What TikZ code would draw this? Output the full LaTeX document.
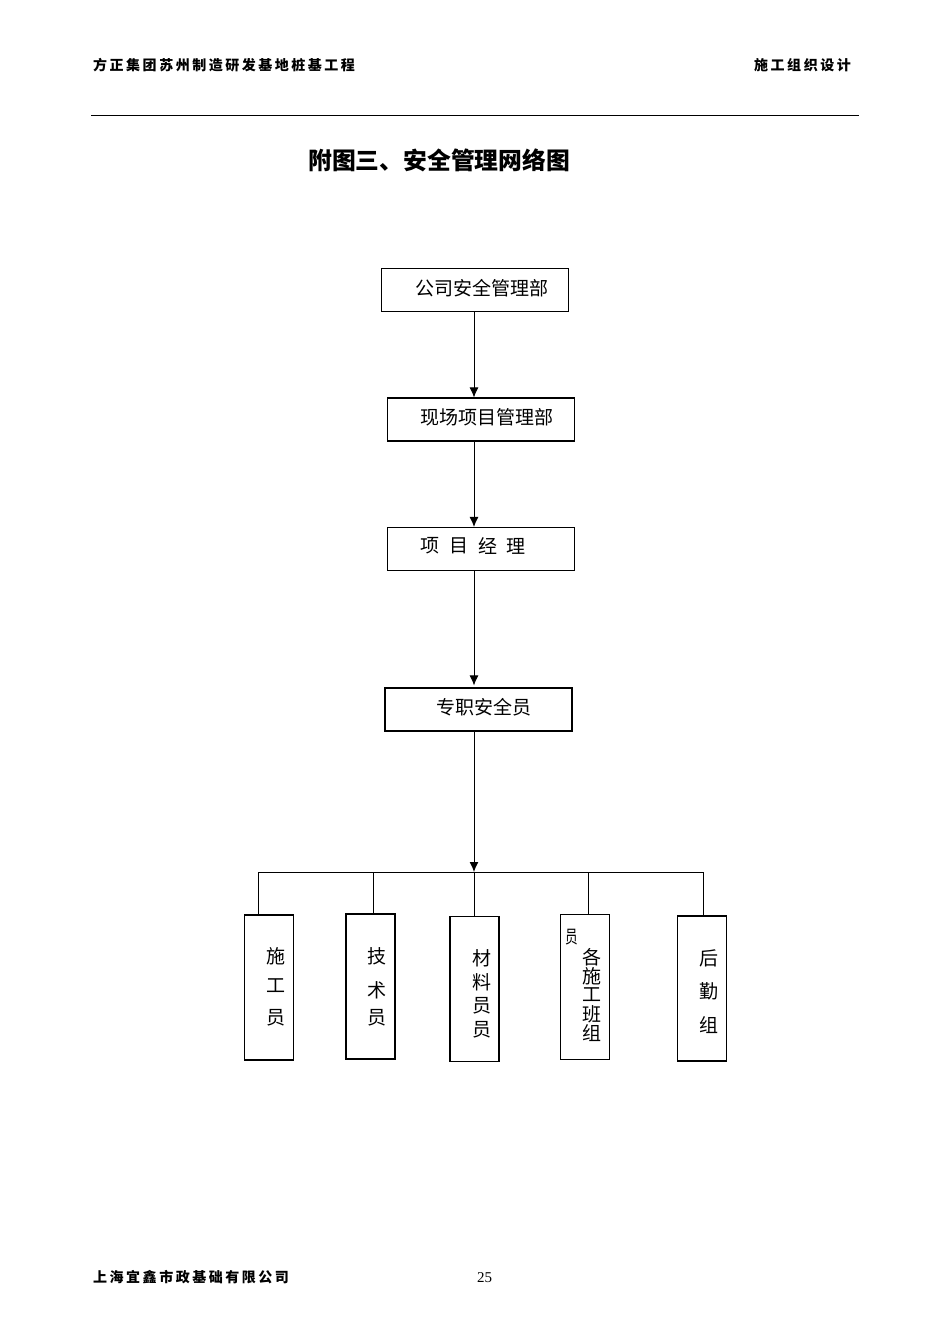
\documentclass[tikz,border=0pt]{standalone}
\usepackage{fontspec}
\usepackage{tikz}
\usetikzlibrary{arrows.meta}
\setmainfont{Liberation Serif}
\newfontfamily\cjk{Noto Sans CJK SC}
\newfontfamily\cjkhead[LetterSpace=18]{Noto Sans CJK SC}
\tikzset{
  headtext/.style={font=\fontsize{14}{14}\selectfont\cjkhead\bfseries,anchor=west,inner sep=0pt},
  boxtext/.style={font=\fontsize{19}{24}\selectfont\cjk,anchor=west,inner sep=0pt,align=center},
  widebox/.style={draw,line width=1.1pt,minimum width=187pt,minimum height=43pt,inner sep=0pt},
  tallbox/.style={draw,line width=1.1pt,minimum width=49pt,minimum height=145pt,inner sep=0pt},
  arrowline/.style={line width=1pt,-{Latex[length=10pt,width=9pt]}},
  linkline/.style={line width=1pt}
}
\begin{document}
\begin{tikzpicture}[x=1pt,y=-1pt]
\useasboundingbox (0,0) rectangle (950,1344);
% header
\node [headtext] (headl) at (93,65) {方正集团苏州制造研发基地桩基工程};
\node [headtext] (headr) at (754,65) {施工组织设计};
\coordinate (rulel) at (91,115.5);
\coordinate (ruler) at (859,115.5);
\draw [line width=1.1pt] (rulel) -- (ruler);
\node [font=\fontsize{23.8}{24}\selectfont\cjk\bfseries,anchor=west,inner sep=0pt] (title) at (308,160) {附图三、安全管理网络图};

% wide boxes
\node [widebox] (comp) at (475,290) {};
\node [boxtext] (comptxt) at (415,288) {公司安全管理部};
\node [widebox] (site) at (481,419.5) {};
\node [boxtext] (sitetxt) at (420,417) {现场项目管理部};
\node [widebox] (mgr) at (481,549) {};
\node [boxtext] (mgr1) at (420,546) {项};
\node [boxtext] (mgr2) at (449,546) {目};
\node [boxtext] (mgr3) at (478,546) {经};
\node [boxtext] (mgr4) at (506,546) {理};
\node [widebox] (safe) at (478.5,709.5) {};
\node [boxtext] (safetxt) at (436,707) {专职安全员};

% arrows
\coordinate (trunk) at (474,872);
\draw [arrowline] (comp.south -| trunk) -- (site.north -| trunk);
\draw [arrowline] (site.south -| trunk) -- (mgr.north -| trunk);
\draw [arrowline] (mgr.south -| trunk) -- ([yshift=2pt]safe.north -| trunk);
\draw [arrowline] (safe.south -| trunk) -- (trunk);

% tall boxes
\node [tallbox] (worker) at (269,987.5) {};
\node [boxtext] (worker1) at (266,956) {施};
\node [boxtext] (worker2) at (266,986) {工};
\node [boxtext] (worker3) at (266,1018) {员};
\node [tallbox] (tech) at (370.5,986.5) {};
\node [boxtext] (tech1) at (367,956) {技};
\node [boxtext] (tech2) at (367,990) {术};
\node [boxtext] (tech3) at (367,1018) {员};
\node [tallbox] (mat) at (474.5,989) {};
\node [boxtext] (mat1) at (472,958) {材};
\node [boxtext] (mat2) at (472,982) {料};
\node [boxtext] (mat3) at (472,1006) {员};
\node [boxtext] (mat4) at (472,1030) {员};
\node [tallbox] (team) at (585,987) {};
\node [font=\fontsize{18}{18}\selectfont\cjk,inner sep=0pt,xscale=0.7] (team0) at (572,937) {员};
\node [boxtext] (team1) at (582,957) {各};
\node [boxtext] (team2) at (582,976) {施};
\node [boxtext] (team3) at (582,995) {工};
\node [boxtext] (team4) at (582,1014) {班};
\node [boxtext] (team5) at (582,1033) {组};
\node [tallbox] (back) at (702,988.5) {};
\node [boxtext] (back1) at (699,958) {后};
\node [boxtext] (back2) at (699,991) {勤};
\node [boxtext] (back3) at (699,1025) {组};

% bus
\coordinate (busl) at (258,872);
\coordinate (busb) at (373,872);
\coordinate (busd) at (588,872);
\coordinate (buse) at (703,872);
\draw [linkline] (busl) -- (buse);
\draw [linkline] (busl) -- (worker.north -| busl);
\draw [linkline] (busb) -- (tech.north -| busb);
\draw [linkline] (trunk) -- (mat.north -| trunk);
\draw [linkline] (busd) -- (team.north -| busd);
\draw [linkline] (buse) -- (back.north -| buse);

% footer
\node [headtext] (foot) at (93,1277) {上海宜鑫市政基础有限公司};
\node [font=\fontsize{15}{15}\selectfont,inner sep=0pt] (page) at (484.5,1277.5) {25};
\end{tikzpicture}
\end{document}
